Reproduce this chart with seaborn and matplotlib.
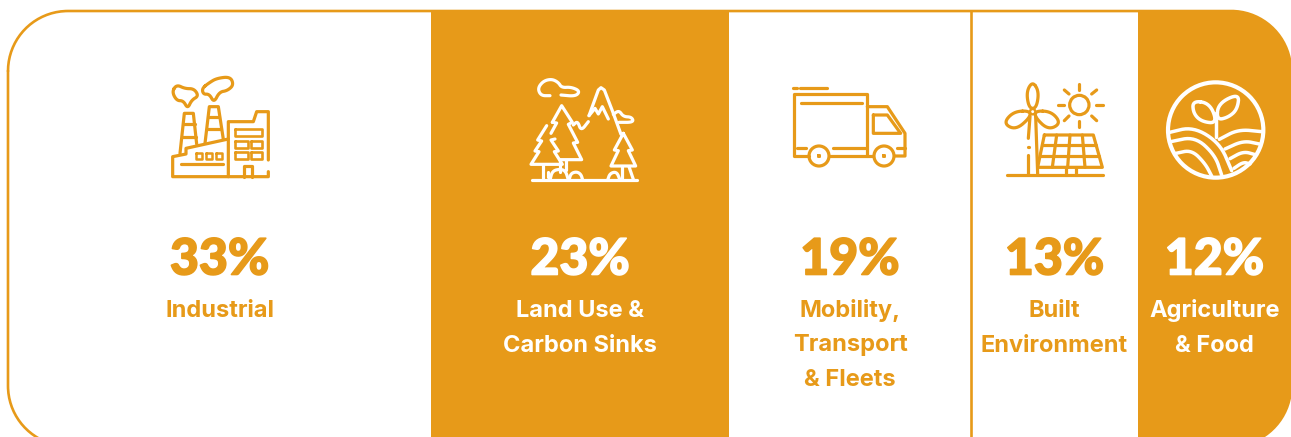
import numpy as np
import seaborn as sns
import matplotlib.pyplot as plt
import matplotlib.patheffects as pe
from matplotlib.patches import Circle, Polygon
from matplotlib.transforms import blended_transform_factory

# 데이터
sectors = ["Industrial", "Land Use &\nCarbon Sinks", "Mobility,\nTransport\n& Fleets",
           "Built\nEnvironment", "Agriculture\n& Food"]
shares = [33, 23, 19, 13, 12]
# 그림에서 읽은 실제 막대 너비 (라벨 값과 조금 다름)
drawn_widths = [32.97, 23.23, 18.86, 13.02, 11.92]
filled = [False, True, False, False, True]

ORANGE = "#E79A19"
WHITE = "#FFFFFF"
LW = 2.3

sns.set_style("white")
plt.rcParams["font.family"] = ["Inter", "DejaVu Sans"]

fig = plt.figure(figsize=(12.91, 4.37), dpi=100)
ax = fig.add_axes([8 / 1291, -9 / 437, 1283 / 1291, 435 / 437])
pix = fig.add_axes([0, 0, 1, 1], facecolor="none")
pix.set_xlim(0, 1291)
pix.set_ylim(437, 0)
pix.axis("off")

# 둥근 테두리 (화면 밖 곡선이 깨지므로 직접 꼭짓점 계산)
R = 60
corners = [(8 + R, 11 + R, 180, 270), (1291 - R, 11 + R, 270, 360),
           (1291 - R, 446 - R, 0, 90), (8 + R, 446 - R, 90, 180)]
outline = []
for cx, cy, a0, a1 in corners:
    t = np.radians(np.linspace(a0, a1, 40))
    outline.append(np.c_[cx + R * np.cos(t), cy + R * np.sin(t)])
outline = np.vstack(outline)
frame = Polygon(outline, closed=True, fc="none", ec="none", transform=pix.transData)
pix.add_patch(frame)
pix.plot(np.r_[outline[:, 0], outline[0, 0]], np.r_[outline[:, 1], outline[0, 1]],
         color=ORANGE, lw=1.9, zorder=1)

# 막대 하나씩 왼쪽부터 쌓기
lefts = np.cumsum([0] + drawn_widths[:-1])
for width, left, is_filled in zip(drawn_widths, lefts, filled):
    sns.barplot(x=[width], y=["all"], left=left, color=ORANGE if is_filled else WHITE,
                saturation=1, width=1, orient="h", errorbar=None, linewidth=0, ax=ax)
ax.set_xlim(0, 100)
ax.set_ylim(0.5, -0.5)
ax.axis("off")
for bar in ax.patches:
    bar.set_clip_path(frame)
ax.axvline(lefts[3], color=ORANGE, lw=1.9)

# 글자
both = blended_transform_factory(ax.transData, pix.transData)
for share, width, left, is_filled, name in zip(shares, drawn_widths, lefts, filled, sectors):
    c = WHITE if is_filled else ORANGE
    pct = pix.text(left + width / 2, 260, f"{share}%", transform=both, color=c, ha="center", va="center",
                   fontsize=36, fontweight=900, family=["Lato", "DejaVu Sans"])
    pct.set_path_effects([pe.withStroke(linewidth=1.2, foreground=c)])
    for i, line in enumerate(name.split("\n")):
        pix.text(left + width / 2, 311 + i * 34.5, line, transform=both, color=c, ha="center", va="center",
                 fontsize=17, fontweight="bold")


def smooth(pts, closed=False, n=3):
    pts = np.array(pts, float)
    for _ in range(n):
        if closed:
            nxt = np.roll(pts, -1, axis=0)
            mid = np.empty((len(pts) * 2, 2))
            mid[0::2] = 0.75 * pts + 0.25 * nxt
            mid[1::2] = 0.25 * pts + 0.75 * nxt
            pts = mid
        else:
            a, b = pts[:-1], pts[1:]
            mid = np.empty((len(a) * 2, 2))
            mid[0::2] = 0.75 * a + 0.25 * b
            mid[1::2] = 0.25 * a + 0.75 * b
            pts = np.vstack([pts[:1], mid, pts[-1:]])
    if closed:
        pts = np.vstack([pts, pts[:1]])
    return pts


# 아이콘: 확대한 그림의 좌표(3배)를 그대로 사용
def stroke(origin, pts, color, lw=LW, soft=False, closed=False):
    if soft:
        pts = smooth(pts, closed)
    else:
        pts = np.array(list(pts) + ([pts[0]] if closed else []), float)
    pix.plot(origin[0] + pts[:, 0] / 3, origin[1] + pts[:, 1] / 3, color=color, lw=lw,
             solid_capstyle="round", solid_joinstyle="round")


def ring(origin, cx, cy, r, color, lw=LW):
    pix.add_patch(Circle((origin[0] + cx / 3, origin[1] + cy / 3), r / 3, fc="none", ec=color, lw=lw))


def box(origin, x0, y0, x1, y1, color, lw=LW):
    stroke(origin, [(x0, y0), (x1, y0), (x1, y1), (x0, y1)], color, lw, closed=True)


# 공장
o = (150, 60)
stroke(o, [(355, 300), (355, 155), (320, 155), (310, 185), (235, 185), (235, 350), (355, 350), (355, 335)], ORANGE)
stroke(o, [(235, 350), (68, 350), (68, 290), (108, 282), (108, 265), (235, 237)], ORANGE)
for x0 in (137, 167, 197):
    box(o, x0, 279, x0 + 20, 296, ORANGE, 1.8)
stroke(o, [(92, 313), (218, 313)], ORANGE)
stroke(o, [(90, 280), (103, 160), (130, 160), (140, 252)], ORANGE)
stroke(o, [(100, 192), (134, 192)], ORANGE)
stroke(o, [(95, 232), (138, 232)], ORANGE)
stroke(o, [(165, 250), (178, 140), (205, 140), (220, 238)], ORANGE)
stroke(o, [(175, 172), (208, 172)], ORANGE)
stroke(o, [(170, 208), (214, 208)], ORANGE)
stroke(o, [(66, 95), (80, 74), (105, 86), (132, 86), (146, 108), (125, 120), (113, 146), (100, 122), (80, 122)],
       ORANGE, soft=True, closed=True)
stroke(o, [(156, 85), (178, 68), (200, 55), (241, 50), (251, 75), (232, 92), (208, 96), (192, 128), (178, 102), (160, 103)],
       ORANGE, soft=True, closed=True)
box(o, 255, 208, 335, 228, ORANGE, 1.9)
for x0, x1 in ((255, 295), (303, 335)):
    for y0, y1 in ((243, 265), (277, 298)):
        box(o, x0, y0, x1, y1, ORANGE, 1.9)
stroke(o, [(283, 350), (283, 318), (305, 318), (305, 350)], ORANGE)

# 숲
o = (515, 65)
stroke(o, [(105, 92), (78, 92), (68, 70), (85, 48), (110, 42), (130, 52), (140, 68), (168, 66), (195, 78), (182, 94), (138, 90)],
       WHITE, soft=True)
stroke(o, [(222, 152), (250, 75), (258, 68), (268, 75), (295, 145), (318, 208)], WHITE)
stroke(o, [(222, 152), (240, 130), (250, 147), (262, 125), (280, 162)], WHITE)
stroke(o, [(295, 148), (312, 136), (325, 155), (350, 156), (356, 172), (312, 172)], WHITE, soft=True)
stroke(o, [(112, 172), (140, 122), (172, 172), (160, 178), (188, 232), (175, 234), (200, 284), (135, 284)], WHITE)
stroke(o, [(112, 172), (125, 174), (108, 205)], WHITE)
stroke(o, [(95, 182), (68, 225), (80, 228), (60, 258), (72, 260), (48, 298), (142, 298), (118, 260), (130, 258), (108, 225), (120, 222)], WHITE)
stroke(o, [(325, 205), (298, 255), (310, 257), (288, 303), (362, 303), (340, 257), (352, 255)], WHITE, closed=True)
stroke(o, [(175, 180), (188, 168), (198, 198), (220, 170)], WHITE, soft=True)
stroke(o, [(50, 345), (365, 345)], WHITE)
stroke(o, [(85, 300), (85, 338)], WHITE)
stroke(o, [(100, 322), (100, 335)], WHITE)
stroke(o, [(135, 285), (135, 320)], WHITE)
stroke(o, [(152, 285), (152, 315)], WHITE)
stroke(o, [(105, 345), (112, 318), (135, 312), (152, 318), (160, 345)], WHITE, soft=True)
stroke(o, [(162, 345), (168, 325), (185, 320), (198, 328), (203, 345)], WHITE, soft=True)
stroke(o, [(278, 345), (285, 325), (305, 320), (315, 345)], WHITE, soft=True)
stroke(o, [(320, 305), (320, 340)], WHITE)
stroke(o, [(342, 305), (355, 343)], WHITE)

# 트럭
o = (780, 70)
stroke(o, [(40, 53), (50, 53)], ORANGE)
stroke(o, [(60, 53), (140, 53)], ORANGE)
stroke(o, [(88, 258), (42, 258), (42, 72), (262, 72), (262, 258)], ORANGE)
stroke(o, [(150, 258), (280, 258)], ORANGE)
stroke(o, [(62, 98), (245, 98)], ORANGE)
stroke(o, [(50, 233), (78, 233)], ORANGE)
stroke(o, [(160, 233), (255, 233)], ORANGE)
stroke(o, [(262, 110), (322, 110), (375, 190), (375, 258), (345, 258)], ORANGE)
stroke(o, [(280, 135), (322, 135), (362, 190), (280, 190)], ORANGE, closed=True)
stroke(o, [(352, 233), (375, 233)], ORANGE)
for cx in (117, 312):
    ring(o, cx, 258, 30, ORANGE)
    box(o, cx - 4, 254, cx + 4, 262, ORANGE, 1.4)

# 풍력 + 태양광
o = (995, 70)
stroke(o, [(35, 315), (325, 315)], ORANGE)
stroke(o, [(100, 255), (100, 312)], ORANGE)
stroke(o, [(100, 230), (101, 230)], ORANGE)
stroke(o, [(100, 205), (105, 140)], ORANGE)
stroke(o, [(128, 312), (122, 140)], ORANGE)
stroke(o, [(113, 34), (132, 65), (124, 115), (102, 115), (94, 65)], ORANGE, soft=True, closed=True)
stroke(o, [(104, 122), (55, 125), (25, 160), (62, 180), (106, 142)], ORANGE, soft=True, closed=True)
stroke(o, [(122, 122), (170, 125), (198, 160), (160, 180), (120, 142)], ORANGE, soft=True, closed=True)
ring(o, 113, 125, 8, ORANGE, 1.7)
stroke(o, [(148, 195), (295, 195), (322, 292), (128, 292)], ORANGE, closed=True)
for top, bottom in ((185, 172), (225, 218), (262, 270)):
    stroke(o, [(top, 195), (bottom, 292)], ORANGE)
stroke(o, [(142, 226), (304, 226)], ORANGE)
stroke(o, [(135, 258), (313, 258)], ORANGE)
stroke(o, [(212, 292), (212, 315)], ORANGE)
stroke(o, [(242, 292), (242, 315)], ORANGE)
ring(o, 253, 105, 29, ORANGE)
for x0, y0, x1, y1 in ((253, 42, 253, 60), (253, 152, 253, 170), (190, 105, 207, 105), (303, 105, 323, 105),
                       (208, 60, 222, 72), (305, 60, 290, 72), (208, 152, 222, 138), (305, 152, 290, 138)):
    stroke(o, [(x0, y0), (x1, y1)], ORANGE)

# 농업
o = (1150, 70)
ring(o, 197, 180, 143, WHITE, 3.0)
stroke(o, [(197, 200), (197, 130)], WHITE, 2.5)
stroke(o, [(128, 92), (180, 100), (202, 160), (155, 155), (130, 130)], WHITE, 2.5, soft=True, closed=True)
stroke(o, [(200, 150), (205, 100), (268, 70), (262, 118), (235, 142)], WHITE, 2.5, soft=True, closed=True)
stroke(o, [(55, 188), (130, 170), (210, 220), (245, 302)], WHITE, 2.5, soft=True)
stroke(o, [(62, 215), (135, 200), (195, 255), (215, 315)], WHITE, 2.5, soft=True)
stroke(o, [(78, 250), (125, 240), (165, 280), (185, 318)], WHITE, 2.5, soft=True)
stroke(o, [(208, 208), (265, 178), (335, 185)], WHITE, 2.5, soft=True)
stroke(o, [(225, 237), (280, 212), (328, 222)], WHITE, 2.5, soft=True)
stroke(o, [(240, 266), (280, 244), (316, 254)], WHITE, 2.5, soft=True)
stroke(o, [(252, 295), (280, 276), (300, 282)], WHITE, 2.5, soft=True)

pix.set_xlim(0, 1291)
pix.set_ylim(437, 0)
fig.savefig("out.png", dpi=100)
